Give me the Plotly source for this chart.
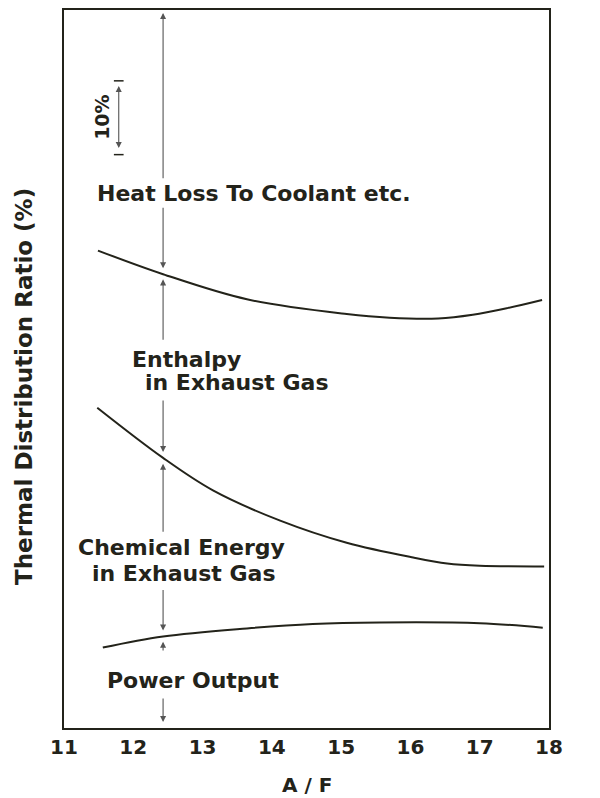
import plotly.graph_objects as go

# boundaries between the heat shares (cumulative %)
af_heat = [11.49, 12.43, 13.64, 15.08, 15.70, 16.40, 16.90, 17.40, 17.90]
heat_loss_edge = [64.7, 61.5, 58.1, 56.1, 55.6, 55.5, 56.0, 56.9, 58.0]

af_enth = [11.48, 12.43, 13.15, 14.12, 15.08, 16.04, 16.53, 17.00, 17.93]
enthalpy_edge = [43.4, 36.6, 32.2, 28.1, 25.1, 23.1, 22.3, 22.0, 21.9]

af_chem = [11.56, 12.43, 13.64, 14.59, 15.56, 17.00, 17.91]
chemical_edge = [10.9, 12.4, 13.5, 14.1, 14.3, 14.2, 13.6]

x_ticks = [11, 12, 13, 14, 15, 16, 17, 18]

FONT = "DejaVu Sans"
INK = "#23231a"
ARROW = "#555555"

fig = go.Figure()
for xs, ys in [(af_heat, heat_loss_edge), (af_enth, enthalpy_edge), (af_chem, chemical_edge)]:
    fig.add_trace(go.Scatter(x=xs, y=ys, mode="lines", line=dict(color=INK, width=2, shape="spline"),
                             showlegend=False, hoverinfo="skip"))

# arrows along A/F = 12.43 : (head y, tail y)
arrow_x = 12.43
arrow_segments = [(96.9, 74.3), (62.3, 70.7),
                  (60.8, 52.4), (37.4, 44.6),
                  (35.8, 26.4), (13.2, 18.9),
                  (11.7, 10.3), (0.8, 4.2)]
annotations = []
for head, tail in arrow_segments:
    annotations.append(dict(x=arrow_x, y=head, ax=arrow_x, ay=tail, xref="x", yref="y", axref="x", ayref="y",
                            text="", showarrow=True, arrowhead=2, arrowsize=1.1, arrowwidth=1.1,
                            arrowcolor=ARROW, standoff=0, startstandoff=0))

# region labels
labels = [("Heat Loss To Coolant etc.", 11.45, 72.4),
          ("Enthalpy", 11.95, 50.0),
          ("in Exhaust Gas", 12.14, 46.8),
          ("Chemical Energy", 11.17, 24.5),
          ("in Exhaust Gas", 11.38, 20.9),
          ("Power Output", 11.59, 6.5)]
for txt, lx, ly in labels:
    annotations.append(dict(x=lx, y=ly, xref="x", yref="y", text=txt, showarrow=False,
                            xanchor="left", yanchor="middle",
                            font=dict(family=FONT, size=22, weight="bold", color=INK)))

# 10% scale bar
bar_x, bar_top, bar_bot = 11.79, 87.7, 77.7
annotations.append(dict(x=bar_x, y=bar_top - 0.7, ax=bar_x, ay=bar_bot + 0.7, xref="x", yref="y",
                        axref="x", ayref="y", text="", showarrow=True, arrowhead=2, arrowside="end+start",
                        arrowsize=1.1, arrowwidth=1.1, arrowcolor=ARROW, standoff=0, startstandoff=0))
annotations.append(dict(x=11.55, y=(bar_top + bar_bot) / 2, xref="x", yref="y", text="10%", showarrow=False,
                        textangle=-90, xanchor="center", yanchor="middle",
                        font=dict(family=FONT, size=19, weight="bold", color=INK)))
shapes = []
for yy in [bar_top, bar_bot]:
    shapes.append(dict(type="line", xref="x", yref="y", x0=bar_x - 0.07, x1=bar_x + 0.07, y0=yy, y1=yy,
                       line=dict(color=INK, width=1.5)))

# axis titles
annotations.append(dict(x=-0.083, y=0.476, xref="paper", yref="paper", text="Thermal Distribution Ratio (%)",
                        showarrow=False, textangle=-90, xanchor="center", yanchor="middle",
                        font=dict(family=FONT, size=23, weight="bold", color=INK)))
annotations.append(dict(x=0.5, y=-0.079, xref="paper", yref="paper", text="A / F", showarrow=False,
                        xanchor="center", yanchor="middle",
                        font=dict(family=FONT, size=20, weight="bold", color=INK)))

fig.update_layout(
    width=592, height=790,
    margin=dict(l=56, r=51, t=0, b=70),
    paper_bgcolor="white", plot_bgcolor="white",
    annotations=annotations, shapes=shapes,
)
fig.update_xaxes(range=[11, 18], tickvals=x_ticks, showgrid=False, zeroline=False,
                 showline=True, mirror=True, linecolor=INK, linewidth=2, ticks="",
                 tickfont=dict(family=FONT, size=20, weight="bold", color=INK))
fig.update_yaxes(range=[0, 97.3], showticklabels=False, showgrid=False, zeroline=False,
                 showline=True, mirror=True, linecolor=INK, linewidth=2, ticks="")

fig.write_html("out.html")
